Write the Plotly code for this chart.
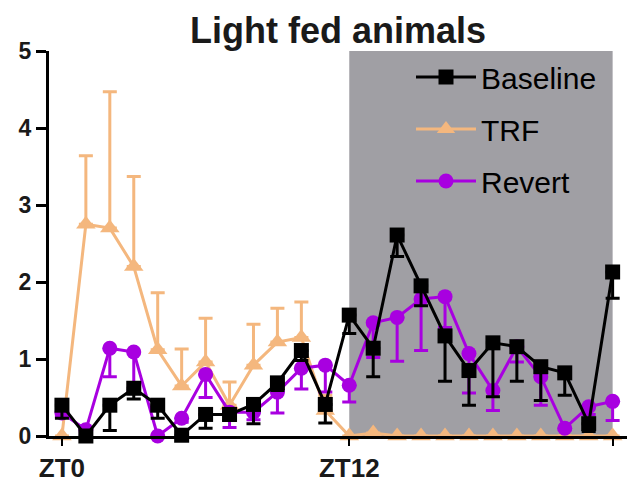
import plotly.graph_objects as go

hours = list(range(24))
tick_vals = [0, 12, 23]
tick_text = ["ZT0", "ZT12", ""]

baseline = [0.40, 0.00, 0.40, 0.62, 0.40, 0.01, 0.28, 0.28, 0.41, 0.69, 1.11, 0.41,
            1.57, 1.14, 2.61, 1.95, 1.30, 0.85, 1.21, 1.16, 0.90, 0.82, 0.16, 2.13]
baseline_err = [0.17, 0.00, 0.33, 0.14, 0.17, 0.00, 0.18, 0.08, 0.25, 0.10, 0.13, 0.24,
                0.24, 0.37, 0.28, 0.26, 0.59, 0.45, 0.70, 0.45, 0.44, 0.29, 0.10, 0.34]

trf = [0.00, 2.75, 2.70, 2.20, 1.12, 0.65, 0.96, 0.40, 0.92, 1.22, 1.28, 0.33,
       0.00, 0.04, 0.00, 0.00, 0.00, 0.00, 0.00, 0.00, 0.00, 0.00, 0.00, 0.00]
trf_err = [0.00, 0.89, 1.77, 1.17, 0.74, 0.48, 0.57, 0.30, 0.53, 0.44, 0.46, 0.20,
           0.00, 0.00, 0.00, 0.00, 0.00, 0.00, 0.00, 0.00, 0.00, 0.00, 0.00, 0.00]

revert = [0.30, 0.08, 1.14, 1.09, 0.00, 0.23, 0.80, 0.31, 0.31, 0.57, 0.88, 0.92,
          0.66, 1.47, 1.54, 1.78, 1.81, 1.07, 0.59, 1.16, 0.77, 0.10, 0.38, 0.45]
revert_err = [0.05, 0.05, 0.37, 0.50, 0.00, 0.05, 0.30, 0.20, 0.10, 0.27, 0.27, 0.35,
              0.22, 0.45, 0.57, 0.67, 0.40, 0.51, 0.26, 0.20, 0.37, 0.02, 0.10, 0.25]

dark_start, dark_end = 12, 23

BLACK = "#000000"
ORANGE = "#F4B77E"
PURPLE = "#A800E0"
GRAY = "#A09FA4"
FONT = "Liberation Sans, Arial, sans-serif"

zeros = [0] * 24

fig = go.Figure()

fig.add_trace(go.Scatter(
    x=hours, y=trf, name="TRF", mode="lines+markers",
    line=dict(color=ORANGE, width=3),
    marker=dict(symbol="triangle-up", size=17, color=ORANGE),
    error_y=dict(type="data", symmetric=False, array=trf_err, arrayminus=zeros,
                 color=ORANGE, thickness=3, width=7),
    legendrank=2, legendgroup="b", cliponaxis=False,
))
fig.add_trace(go.Scatter(
    x=hours, y=revert, name="Revert", mode="lines+markers",
    line=dict(color=PURPLE, width=3),
    marker=dict(symbol="circle", size=15, color=PURPLE),
    error_y=dict(type="data", symmetric=False, array=zeros, arrayminus=revert_err,
                 color=PURPLE, thickness=3, width=7),
    legendrank=3, legendgroup="c", cliponaxis=False,
))
fig.add_trace(go.Scatter(
    x=hours, y=baseline, name="Baseline", mode="lines+markers",
    line=dict(color=BLACK, width=3),
    marker=dict(symbol="square", size=15, color=BLACK),
    error_y=dict(type="data", symmetric=False, array=zeros, arrayminus=baseline_err,
                 color=BLACK, thickness=3, width=7),
    legendrank=1, legendgroup="a", cliponaxis=False,
))

fig.add_shape(type="rect", xref="x", yref="y", x0=dark_start, x1=dark_end, y0=0, y1=5,
              fillcolor=GRAY, line=dict(width=0), layer="below")

fig.update_layout(
    width=627, height=482,
    margin=dict(l=49, r=0, t=51, b=46, autoexpand=False),
    paper_bgcolor="white", plot_bgcolor="white",
    font=dict(family=FONT, color="#1a1a1a"),
    title=dict(text="<b>Light fed animals</b>", x=0.5, xref="paper", xanchor="center",
               y=1 - 30 / 482, yref="container", yanchor="middle",
               font=dict(size=36, family=FONT, color="#1a1a1a")),
    showlegend=True,
    legend=dict(x=(411 - 49) / 578, xref="paper", y=1 - (51 - 51) / 385, yref="paper",
                xanchor="left", yanchor="top", bgcolor="rgba(0,0,0,0)",
                font=dict(size=30, family=FONT, color="#000000"),
                itemwidth=60, tracegroupgap=10),
    xaxis=dict(range=[-0.54, 23.6], tickmode="array", tickvals=tick_vals,
               ticktext=["<b>%s</b>" % t if t else "" for t in tick_text],
               showline=True, linecolor=BLACK, linewidth=3, ticks="outside", ticklen=7,
               tickwidth=2, tickcolor=BLACK, showgrid=False, zeroline=False, automargin=False,
               tickfont=dict(size=26, family=FONT, color="#1a1a1a"), ticklabelstandoff=0),
    yaxis=dict(range=[0, 5], tickmode="array", tickvals=[0, 1, 2, 3, 4, 5],
               ticktext=["<b>%d</b>" % v for v in [0, 1, 2, 3, 4, 5]],
               showline=True, linecolor=BLACK, linewidth=3, ticks="outside", ticklen=10,
               tickwidth=3, tickcolor=BLACK, showgrid=False, zeroline=False, automargin=False,
               tickfont=dict(size=23, family=FONT, color="#1a1a1a")),
)

fig.write_html("out.html", config={"displayModeBar": False})

# remove the default page margin so the figure sits at the window origin
with open("out.html", "r", encoding="utf-8") as fh:
    html = fh.read()
html = html.replace("<head>", "<head><style>html,body{margin:0;padding:0;overflow:hidden;}</style>", 1)
with open("out.html", "w", encoding="utf-8") as fh:
    fh.write(html)
